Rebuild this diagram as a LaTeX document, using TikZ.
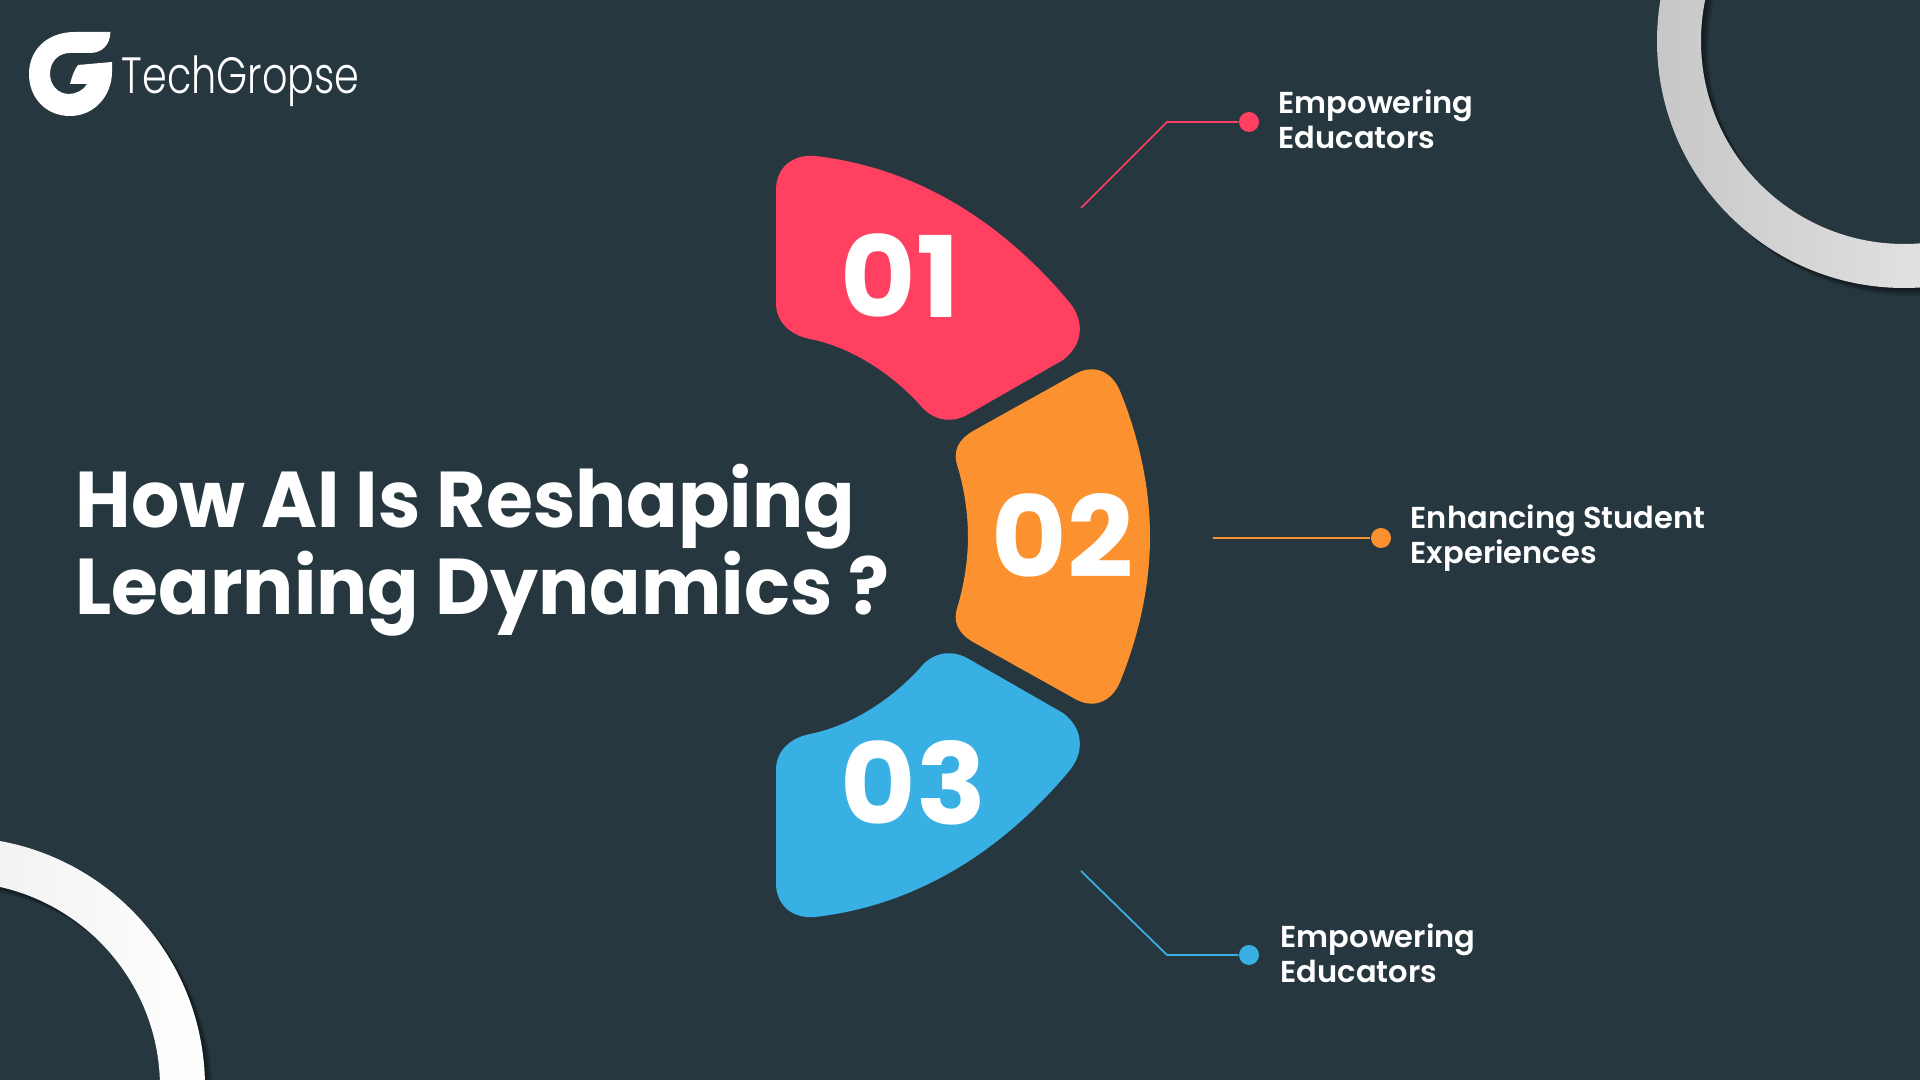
\documentclass[tikz,border=0pt]{standalone}
\usepackage{fontspec}
\setmainfont{Poppins}
\newfontfamily\headfont[FakeStretch=1.01]{Poppins SemiBold}
\newfontfamily\titlefont[FakeStretch=0.96]{Poppins Bold}
\newfontfamily\numfont[FakeStretch=1.03]{Poppins Bold}
\newfontfamily\logofont[FakeStretch=0.78]{Poppins Light}
\usetikzlibrary{calc}
\definecolor{bgdark}{HTML}{26373F}
\definecolor{segred}{HTML}{FF4060}
\definecolor{segorange}{HTML}{FC922F}
\definecolor{segblue}{HTML}{38B0E4}
\tikzset{
  number/.style={text=white,font=\numfont\fontsize{32}{32}\selectfont,inner sep=0pt,anchor=base west},
  label/.style={text=white,font=\headfont\fontsize{8.6}{9.9}\selectfont,inner sep=0pt,align=left,anchor=west},
  dot/.style={circle,fill=#1,minimum size=0.2cm,inner sep=0pt},
  wire/.style={line width=0.5pt,color=#1}
}
\begin{document}
\begin{tikzpicture}[x=0.01cm,y=-0.01cm]
  \useasboundingbox (0,0) rectangle (1920,1080);
  \fill[bgdark] (0,0) rectangle (1920,1080);
  \coordinate (R) at (1904,41);
  \coordinate (L) at (-45,1087);
  \foreach \i in {8,7,...,1} {
    \fill[black,opacity=0.07,even odd rule] ($(R)+(\i,\i)$) circle (247) ($(R)+(\i,\i)$) circle (203);
    \fill[black,opacity=0.07,even odd rule] ($(L)+(\i,\i)$) circle (250) ($(L)+(\i,\i)$) circle (205);
  }
  \path[even odd rule,left color=black!22,right color=black!3] (R) circle (247) (R) circle (203);
  \path[even odd rule,left color=black!12,right color=white] (L) circle (250) (L) circle (205);
  \fill[white] (110.5,32) -- (75,32) .. controls (47,32) and (29,50) .. (29,74)
    .. controls (29,98) and (46,116) .. (70,116) .. controls (95,116) and (112,95) .. (112,72)
    -- (112,62) -- (78,65) .. controls (74,70) and (72,77) .. (70,84) -- (87,84)
    .. controls (84,90) and (76,94) .. (69,94) .. controls (58,94) and (50,85) .. (50,74)
    .. controls (50,62) and (58,53) .. (70,53) -- (90,53) .. controls (102,53) and (110,45) .. (110.5,32) -- cycle;
  \node[text=white,font=\logofont\fontsize{14.5}{14.5}\selectfont,inner sep=0pt,anchor=base west] (logo) at (121,94) {TechGropse};
  \node[text=white,font=\titlefont\fontsize{22.5}{24.7}\selectfont,inner sep=0pt,align=left,anchor=west] (title) at (75,550) {How AI Is Reshaping\\Learning Dynamics ?};
  \fill[segred] (776,190) .. controls (776,168) and (792,154) .. (815,156)
    .. controls (920,168) and (1005,225) .. (1070,303) .. controls (1085,322) and (1083,345) .. (1063,360)
    -- (967,415) .. controls (950,424) and (932,420) .. (920,405)
    .. controls (890,372) and (850,347) .. (810,339) .. controls (790,335) and (776,322) .. (776,303) -- cycle;
  \fill[segorange] (973,431) -- (1077,373) .. controls (1095,364) and (1112,372) .. (1120,391)
    .. controls (1140,440) and (1150,490) .. (1150,536.5) .. controls (1150,583) and (1140,633) .. (1120,682)
    .. controls (1112,701) and (1095,709) .. (1077,700) -- (973,642)
    .. controls (958,633) and (952,622) .. (958,605) .. controls (964,585) and (968,560) .. (968,536.5)
    .. controls (968,513) and (964,488) .. (958,468) .. controls (952,451) and (958,440) .. (973,431) -- cycle;
  \fill[segblue] (776,883) .. controls (776,905) and (792,919) .. (815,917)
    .. controls (920,905) and (1005,848) .. (1070,770) .. controls (1085,751) and (1083,728) .. (1063,713)
    -- (967,658) .. controls (950,649) and (932,653) .. (920,668)
    .. controls (890,701) and (850,726) .. (810,734) .. controls (790,738) and (776,751) .. (776,770) -- cycle;
  \node[number] (one) at (840,318) {01};
  \node[number] (two) at (991,578) {02};
  \node[number] (three) at (840,825) {03};
  \node[dot=segred] (dotA) at (1249,122) {};
  \node[dot=segorange] (dotB) at (1381,538) {};
  \node[dot=segblue] (dotC) at (1249,955) {};
  \coordinate (startA) at (1081,208);
  \coordinate (bendA) at (1167,122);
  \coordinate (startB) at (1213,538);
  \coordinate (startC) at (1081,871);
  \coordinate (bendC) at (1167,955);
  \draw[wire=segred] (startA) -- (bendA) -- (dotA);
  \draw[wire=segorange] (startB) -- (dotB);
  \draw[wire=segblue] (startC) -- (bendC) -- (dotC);
  \node[label] (textA) at (1278,119) {Empowering\\Educators};
  \node[label] (textB) at (1410,538.5) {Enhancing Student\\Experiences};
  \node[label] (textC) at (1280,953) {Empowering\\Educators};
\end{tikzpicture}
\end{document}
